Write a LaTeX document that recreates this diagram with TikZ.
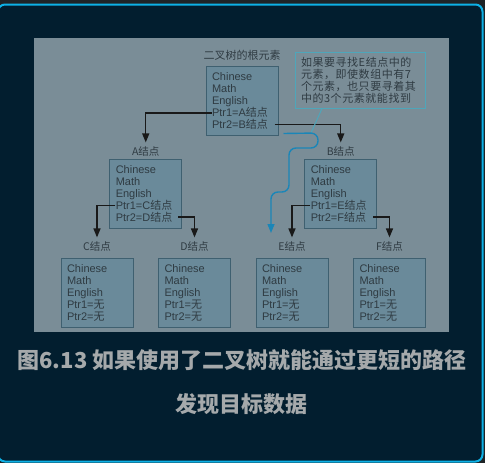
\documentclass[tikz,border=0pt]{standalone}
\usepackage{fontspec}
\setmainfont{Liberation Sans}
\newfontfamily\cjk{Noto Sans CJK SC}
\newfontfamily\cjkwide{Noto Sans CJK SC}[LetterSpace=5]
\usetikzlibrary{arrows.meta,positioning,calc}
\definecolor{Outer}{HTML}{1E2326}
\definecolor{Frame}{HTML}{021E2F}
\definecolor{Edge}{HTML}{0DB1E6}
\definecolor{Panel}{HTML}{7A8D97}
\definecolor{Cell}{HTML}{6A8A9A}
\definecolor{CellLine}{HTML}{3F6070}
\definecolor{Ink}{HTML}{2F3B42}
\definecolor{NoteLine}{HTML}{4EA6BA}
\definecolor{Flow}{HTML}{1A86B8}
\definecolor{Caption}{HTML}{A5A9AB}
\newcommand\jd{{\cjk 结点}}
\newcommand\wu{{\cjk 无}}

\begin{document}
\begin{tikzpicture}[x=1pt,y=-1pt,
    bx/.style={draw=CellLine,fill=Cell,line width=1pt,minimum width=72pt,minimum height=69pt,text width=60pt,inner xsep=6pt,inner ysep=0pt,align=left,text=Ink,font=\fontsize{11}{12}\selectfont},
    tg/.style={inner sep=0pt,text=Ink,font=\cjk\fontsize{10.5}{12}\selectfont},
    a/.style={-{Triangle[length=9pt,width=7pt]},line width=1.4pt,draw=black!90,shorten >=4pt},
    fl/.style={-{Triangle[length=9pt,width=7pt]},line width=1.4pt,draw=Flow,rounded corners=7pt}]
    \useasboundingbox (0,0) rectangle (485,463);
    % frame and panel
    \fill[Outer] (0,0) rectangle (485,463);
    \draw[Edge,fill=Frame,line width=2pt,rounded corners=7pt] (-2,4.5) rectangle (482.5,461.5);
    \fill[Panel] (34,38) rectangle (449,331.5);
    % boxes
    \node[bx] (root) at (242,101) {Chinese\\Math\\English\\Ptr1=A\jd\\Ptr2=B\jd};
    \node[bx] (nc) at (97,292.5) {Chinese\\Math\\English\\Ptr1=\wu\\Ptr2=\wu};
    \node[bx,right=24.5pt of nc] (nd) {Chinese\\Math\\English\\Ptr1=\wu\\Ptr2=\wu};
    \node[bx,right=24.5pt of nd] (ne) {Chinese\\Math\\English\\Ptr1=\wu\\Ptr2=\wu};
    \node[bx,right=24.5pt of ne] (nf) {Chinese\\Math\\English\\Ptr1=\wu\\Ptr2=\wu};
    \node[bx] (na) at ($(nc)!.5!(nd)+(0,-99)$) {Chinese\\Math\\English\\Ptr1=C\jd\\Ptr2=D\jd};
    \node[bx] (nb) at ($(ne)!.5!(nf)+(0,-99)$) {Chinese\\Math\\English\\Ptr1=E\jd\\Ptr2=F\jd};
    % labels
    \node[tg,above=5pt of root,font=\cjk\fontsize{11}{12}\selectfont] (lr) {二叉树的根元素};
    \node[tg,above=2pt of na] (la) {A结点};
    \node[tg,above=2pt of nb] (lb) {B结点};
    \node[tg,above=6pt of nc] (lc) {C结点};
    \node[tg,above=6pt of nd] (ld) {D结点};
    \node[tg,above=6pt of ne] (le) {E结点};
    \node[tg,above=6pt of nf] (lf) {F结点};
    % pointers
    \draw[a] ([xshift=6pt,yshift=-12pt]root.west) -| (la.north);
    \draw[a] ([xshift=-4pt,yshift=-23.5pt]root.east) -| (lb.north);
    \draw[a] ([xshift=6pt,yshift=-12pt]na.west) -| (lc.north);
    \draw[a] ([xshift=-4pt,yshift=-23.5pt]na.east) -| (ld.north);
    \draw[a] ([xshift=6pt,yshift=-12pt]nb.west) -| (le.north);
    \draw[a] ([xshift=-4pt,yshift=-23.5pt]nb.east) -| (lf.north);
    % note and search path
    \node[draw=NoteLine,line width=1pt,minimum width=130pt,minimum height=56pt,text width=118pt,inner xsep=6pt,align=left,text=Ink,font=\cjkwide\fontsize{11}{12}\selectfont] (nt) at (360,80) {如果要寻找E结点中的\\元素，即使数组中有7\\个元素，也只要寻着其\\中的3个元素就能找到};
    \coordinate (hit) at (311,133);
    \coordinate (find) at (271,233);
    \draw[NoteLine,line width=1pt] ([xshift=-38pt]nt.south) -- (hit);
    \draw[fl] ([shift={(5,-2.5)}]root.south east) -- (318,133) -- (318,148) -- (289,148) -- (289,192) -- (271,192) -- (find);
    % caption
    \node[text=Caption,align=center,font=\cjk\bfseries\fontsize{22}{44}\selectfont] (cap) at (242,382) {图6.13 如果使用了二叉树就能通过更短的路径\\发现目标数据};
\end{tikzpicture}
\end{document}
